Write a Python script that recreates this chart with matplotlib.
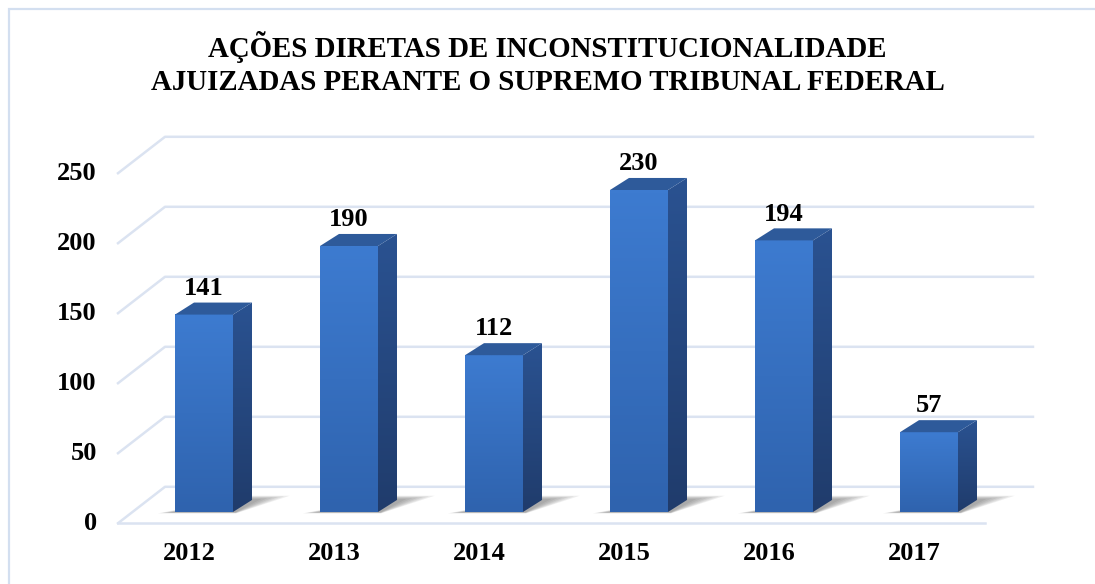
import numpy as np
import matplotlib.pyplot as plt
from matplotlib.patches import Polygon, Rectangle
from matplotlib.colors import LinearSegmentedColormap

years = ["2012", "2013", "2014", "2015", "2016", "2017"]
acoes = [141, 190, 112, 230, 194, 57]
yticks = [0, 50, 100, 150, 200, 250]
title1 = "AÇÕES DIRETAS DE INCONSTITUCIONALIDADE"
title2 = "AJUIZADAS PERANTE O SUPREMO TRIBUNAL FEDERAL"

plt.rcParams['font.family'] = ['Liberation Serif', 'DejaVu Serif']

W, H = 1095, 584
fig = plt.figure(figsize=(W / 100, H / 100), dpi=100)
ax = fig.add_axes([0, 0, 1, 1])
# 145 px per category, 1.40 px per unit; bar base at pixel (204, 512)
ax.set_xlim(-204 / 145, (W - 204) / 145)
ax.set_ylim((512 - H) / 1.40, 512 / 1.40)
ax.axis("off")

# outer frame
fig.patches.append(Rectangle((9 / W, -0.1), 1.2, 1 - 9 / H + 0.1, transform=fig.transFigure,
                             fill=False, ec="#d3dff0", lw=1.6, zorder=0))

# wall / floor grid (3d look)
xf0, xb0, xb1, xf1 = -0.593, -0.269, 5.717, 5.386
yf, yb = -8, 18
gcol = "#dbe3f1"
fs = 19
for v in yticks:
    ax.plot([xf0, xb0, xb1], [v + yf, v + yb, v + yb], color=gcol, lw=1.8, zorder=1)
    ax.text(-0.74, v + yf, str(v), ha="right", va="center", fontsize=fs, fontweight="bold")
ax.plot([xf0, xf1], [yf, yf], color=gcol, lw=1.8, zorder=1)

# bars
hw = 0.2          # half width of front face
dx, dy = 0.131, 8.6   # depth offset
cmap_front = LinearSegmentedColormap.from_list("f", ["#2f63ae", "#3d7bd0"])
cmap_side = LinearSegmentedColormap.from_list("s", ["#203c6c", "#2a5291"])
grad = np.linspace(0, 1, 100).reshape(-1, 1)
for i, v in enumerate(acoes):
    x0, x1 = i - hw, i + hw
    # soft shadow
    for k in range(6):
        s = 1 - k * 0.15
        sh = Polygon([(x0 - 0.12 * s, -1.0 * s), (x1 + 0.02, -1.0 * s),
                      (x1 + dx + 0.26 * s, dy + 3 * s), (x1 + dx, dy + 3 * s)],
                     closed=True, fc="#404040", ec="none", alpha=0.09, zorder=2)
        ax.add_patch(sh)
    ax.imshow(grad, cmap=cmap_front, origin="lower", extent=(x0, x1, 0, v),
              aspect="auto", zorder=3)
    side = Polygon([(x1, 0), (x1 + dx, dy), (x1 + dx, v + dy), (x1, v)], closed=True,
                   fc="none", ec="none")
    ax.add_patch(side)
    ims = ax.imshow(grad, cmap=cmap_side, origin="lower", extent=(x1, x1 + dx, 0, v + dy),
                    aspect="auto", zorder=3)
    ims.set_clip_path(side)
    top = Polygon([(x0, v), (x1, v), (x1 + dx, v + dy), (x0 + dx, v + dy)], closed=True,
                  fc="#2e5a9a", ec="none", zorder=4)
    ax.add_patch(top)
    ax.text(i, v + dy + 2, str(v), ha="center", va="bottom", fontsize=fs, fontweight="bold")
    ax.text(i - 0.10, -29.3, years[i], ha="center", va="center", fontsize=fs, fontweight="bold")

fig.text(0.5, 1 - 47 / H, title1, ha="center", va="center", fontsize=20.8, fontweight="bold")
fig.text(0.5, 1 - 82 / H, title2, ha="center", va="center", fontsize=20.8, fontweight="bold")

fig.savefig("out.png", dpi=100, facecolor="white")
